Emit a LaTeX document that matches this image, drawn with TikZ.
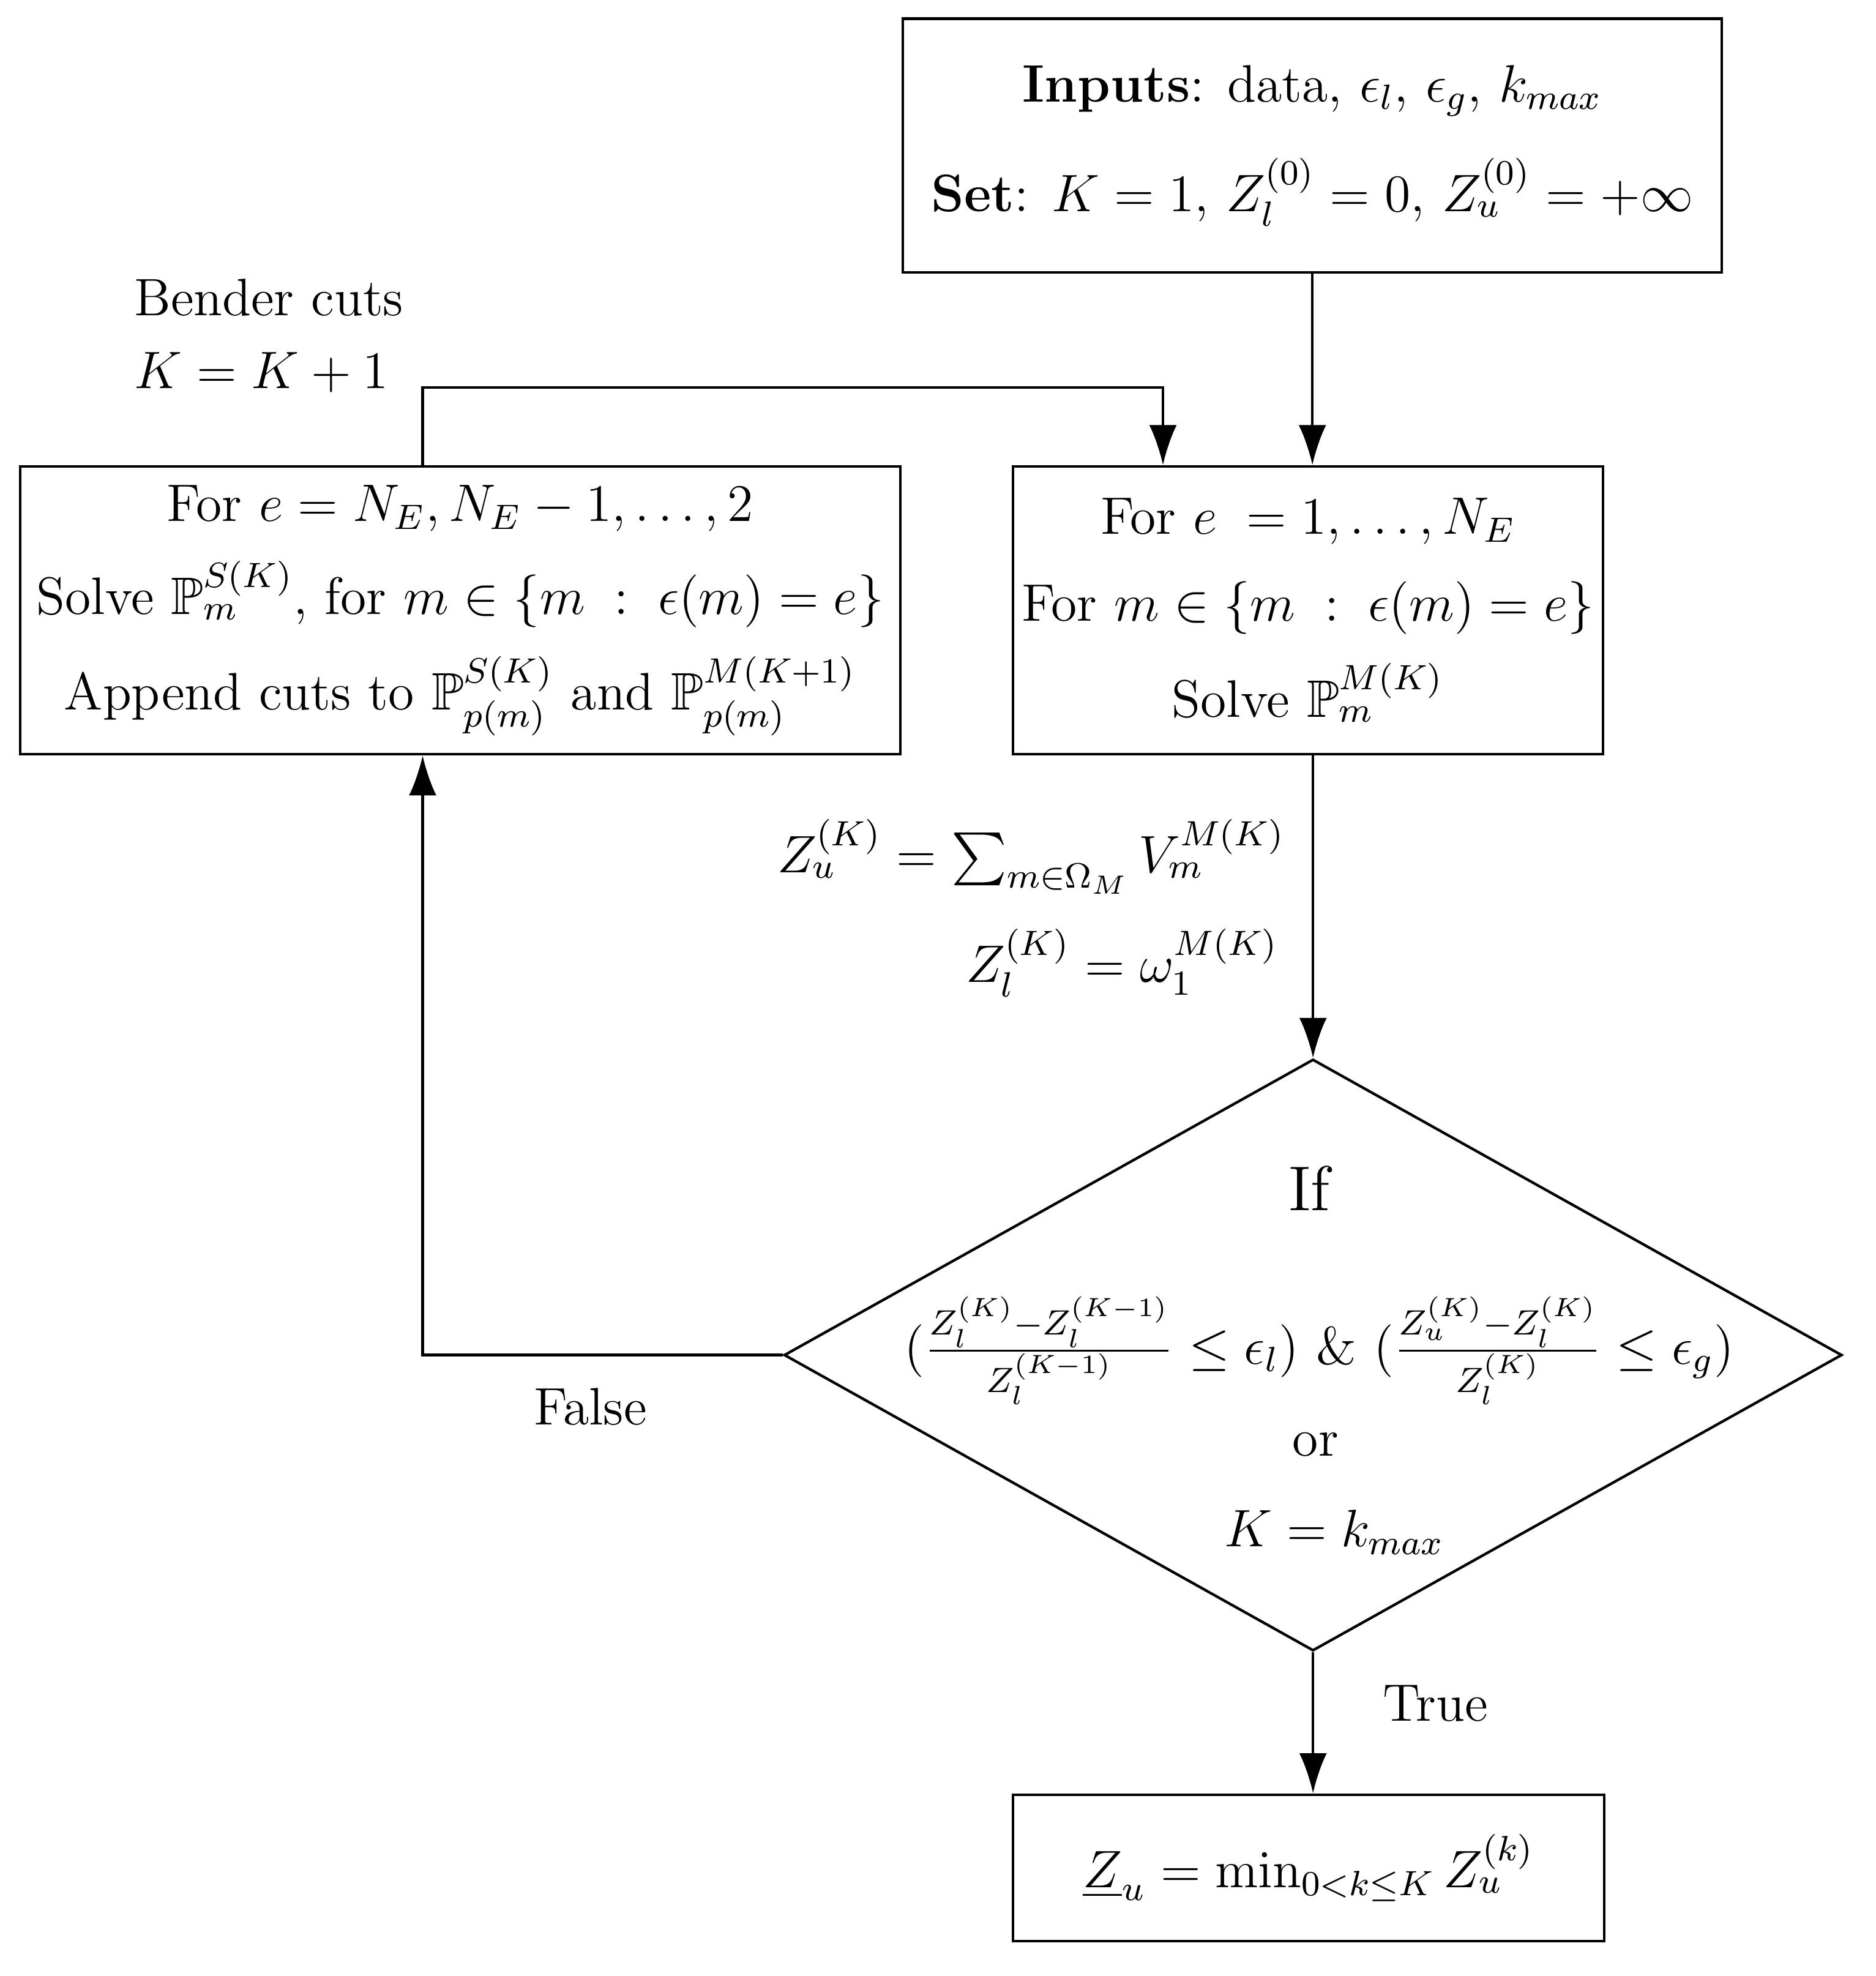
\documentclass[tikz,border=0pt]{standalone}
\usepackage{amsmath,amssymb}
\usetikzlibrary{shapes.geometric,arrows.meta}
\tikzset{
  box/.style={draw, line width=0.6pt, align=center, font=\large, inner sep=0pt},
  flow/.style={-{Latex[length=3.2mm,width=2.2mm]}, line width=0.6pt}
}
\begin{document}
\begin{tikzpicture}

 \useasboundingbox (0,0) rectangle (15.0,15.8);

 % boxes
 \node[box, minimum width=6.55cm, minimum height=2.03cm] (inp) at (10.495,14.635)
  {\textbf{Inputs}: data, $\epsilon_l$, $\epsilon_g$, $k_{max}$\\[3mm]
   \textbf{Set}: $K=1$, $Z_l^{(0)}=0$, $Z_u^{(0)}=+\infty$};
 \node[box, minimum width=4.72cm, minimum height=2.3cm] (fwd) at (10.46,10.92)
  {For $e\;=1,\dots,N_E$\\[2mm]
   For $m\in\{m\;:\;\epsilon(m)=e\}$\\[2mm]
   Solve $\mathbb{P}_m^{M(K)}$};
 \node[box, minimum width=7.04cm, minimum height=2.3cm] (bwd) at (3.68,10.92)
  {For $e=N_E,N_E-1,\dots,2$\\[2mm]
   Solve $\mathbb{P}_m^{S(K)}$, for $m\in\{m\;:\;\epsilon(m)=e\}$\\[2mm]
   Append cuts to $\mathbb{P}_{p(m)}^{S(K)}$ and $\mathbb{P}_{p(m)}^{M(K+1)}$};
 \node[draw, diamond, line width=0.6pt, minimum width=8.46cm, minimum height=4.73cm, inner sep=0pt] (cond) at (10.5,4.965) {};
 \node[box, minimum width=4.73cm, minimum height=1.17cm] (res) at (10.465,0.865)
  {$\underline{Z}_u=\min_{0<k\le K}Z_u^{(k)}$};

 % diamond text
 \node[font=\Large] (cif) at (10.47,6.3) {If};
 \node[font=\large] (cfrac) at (10.55,5.0)
  {$(\frac{Z_l^{(K)}-Z_l^{(K-1)}}{Z_l^{(K-1)}}\le\epsilon_l)$ \& $(\frac{Z_u^{(K)}-Z_l^{(K)}}{Z_l^{(K)}}\le\epsilon_g)$};
 \node[font=\large] (cor) at (10.52,4.25) {or};
 \node[font=\large] (ck) at (10.67,3.55) {$K=k_{max}$};

 % connectors
 \coordinate (lt) at (3.38,12.7);
 \coordinate (rt) at (9.3,12.7);
 \coordinate (fl) at (3.38,4.98);
 \draw[flow] (inp.south) -- (inp.south |- fwd.north);
 \draw[flow] (bwd.north -| lt) -- (lt) -- (rt) -- (fwd.north -| rt);
 \draw[flow] (fwd.south -| cond.north) -- (cond.north);
 \draw[flow] (cond.west) -- (cond.west -| fl) -- (bwd.south -| fl);
 \draw[flow] (cond.south) -- (res.north -| cond.south);

 % labels
 \node[anchor=west, font=\large] (bc) at (0.95,13.42) {Bender cuts};
 \node[anchor=west, font=\large] (kk) at (0.95,12.82) {$K=K+1$};
 \node[anchor=east, font=\large] (zu) at (10.4,8.95) {$Z_u^{(K)}=\sum_{m\in\Omega_M}V_m^{M(K)}$};
 \node[anchor=east, font=\large] (zl) at (10.35,8.1) {$Z_l^{(K)}=\omega_1^{M(K)}$};
 \node[font=\large] (fl1) at (4.72,4.55) {False};
 \node[font=\large] (tr1) at (11.48,2.18) {True};
\end{tikzpicture}
\end{document}
